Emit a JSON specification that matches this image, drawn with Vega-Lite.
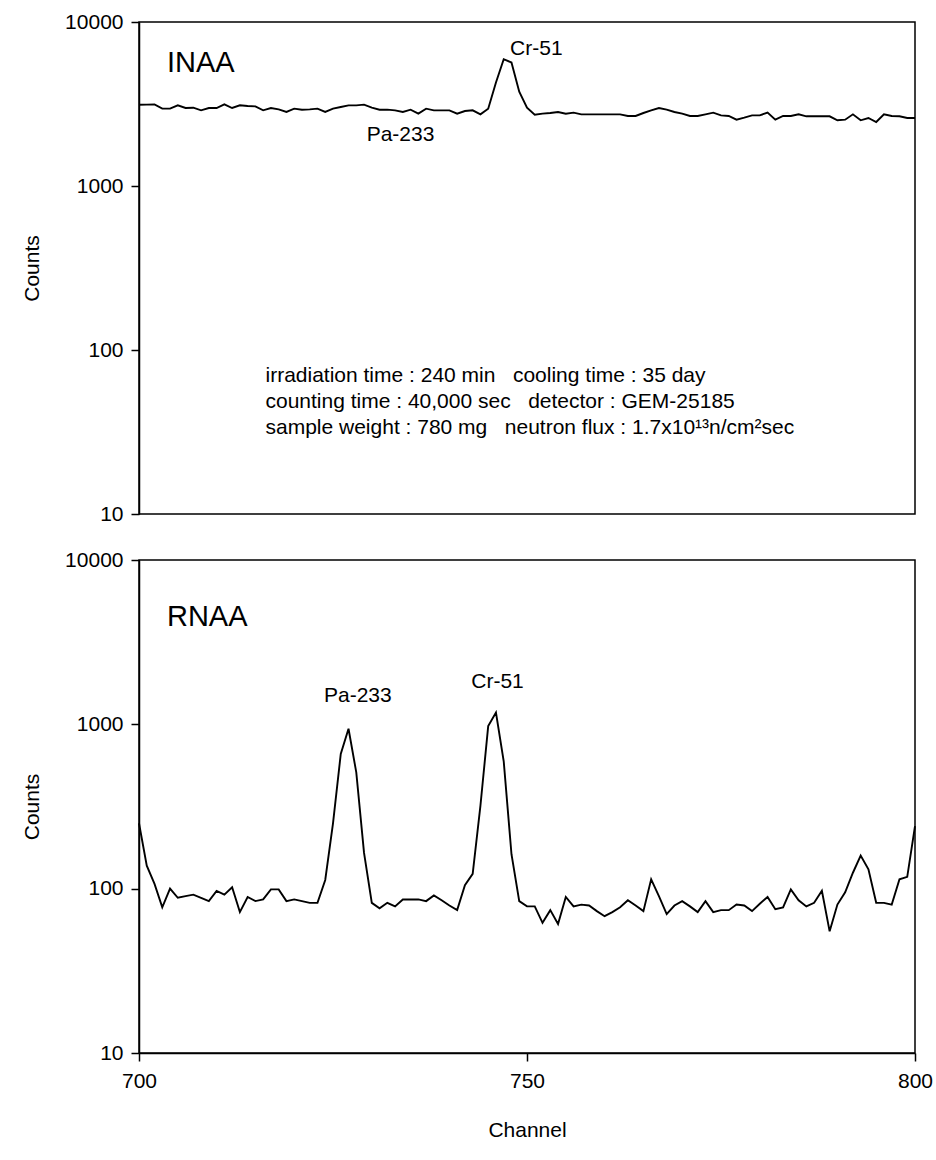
{
  "$schema": "https://vega.github.io/schema/vega-lite/v6.json",
  "background": "white",
  "padding": {"left": 20, "top": 10, "right": 20, "bottom": 10},
  "config": {
    "font": "Liberation Sans",
    "view": {"stroke": "black", "strokeWidth": 1.5},
    "axis": {
      "domainColor": "black", "domainWidth": 1.5,
      "tickColor": "black", "tickWidth": 1.5, "tickSize": 8,
      "labelColor": "black", "titleColor": "black",
      "labelFont": "Liberation Sans", "titleFont": "Liberation Sans",
      "labelFontSize": 21, "titleFontSize": 21, "titleFontWeight": "normal",
      "labelPadding": 8, "labelFlush": false, "labelOverlap": false, "grid": false
    },
    "text": {"font": "Liberation Sans", "color": "black"}
  },
  "datasets": {
    "inaa": [
      {"ch":700,"counts":3130},{"ch":701,"counts":3133},{"ch":702,"counts":3146},{"ch":703,"counts":2962},{"ch":704,"counts":2962},
      {"ch":705,"counts":3104},{"ch":706,"counts":2990},{"ch":707,"counts":3003},{"ch":708,"counts":2893},{"ch":709,"counts":2990},
      {"ch":710,"counts":2990},{"ch":711,"counts":3146},{"ch":712,"counts":2990},{"ch":713,"counts":3104},{"ch":714,"counts":3075},
      {"ch":715,"counts":3061},{"ch":716,"counts":2893},{"ch":717,"counts":2990},{"ch":718,"counts":2934},{"ch":719,"counts":2827},
      {"ch":720,"counts":2962},{"ch":721,"counts":2920},{"ch":722,"counts":2934},{"ch":723,"counts":2962},{"ch":724,"counts":2827},
      {"ch":725,"counts":2962},{"ch":726,"counts":3032},{"ch":727,"counts":3104},{"ch":728,"counts":3104},{"ch":729,"counts":3133},
      {"ch":730,"counts":3003},{"ch":731,"counts":2920},{"ch":732,"counts":2920},{"ch":733,"counts":2893},{"ch":734,"counts":2827},
      {"ch":735,"counts":2920},{"ch":736,"counts":2761},{"ch":737,"counts":2962},{"ch":738,"counts":2893},{"ch":739,"counts":2893},
      {"ch":740,"counts":2893},{"ch":741,"counts":2761},{"ch":742,"counts":2867},{"ch":743,"counts":2893},{"ch":744,"counts":2735},
      {"ch":745,"counts":2962},{"ch":746,"counts":4280},{"ch":747,"counts":5930},{"ch":748,"counts":5660},{"ch":749,"counts":3760},
      {"ch":750,"counts":3000},{"ch":751,"counts":2720},{"ch":752,"counts":2761},{"ch":753,"counts":2787},{"ch":754,"counts":2827},
      {"ch":755,"counts":2761},{"ch":756,"counts":2801},{"ch":757,"counts":2735},{"ch":758,"counts":2735},{"ch":759,"counts":2735},
      {"ch":760,"counts":2735},{"ch":761,"counts":2735},{"ch":762,"counts":2735},{"ch":763,"counts":2672},{"ch":764,"counts":2672},
      {"ch":765,"counts":2787},{"ch":766,"counts":2893},{"ch":767,"counts":2990},{"ch":768,"counts":2920},{"ch":769,"counts":2827},
      {"ch":770,"counts":2761},{"ch":771,"counts":2672},{"ch":772,"counts":2672},{"ch":773,"counts":2735},{"ch":774,"counts":2801},
      {"ch":775,"counts":2697},{"ch":776,"counts":2672},{"ch":777,"counts":2538},{"ch":778,"counts":2610},{"ch":779,"counts":2697},
      {"ch":780,"counts":2697},{"ch":781,"counts":2801},{"ch":782,"counts":2538},{"ch":783,"counts":2672},{"ch":784,"counts":2672},
      {"ch":785,"counts":2735},{"ch":786,"counts":2660},{"ch":787,"counts":2660},{"ch":788,"counts":2660},{"ch":789,"counts":2660},
      {"ch":790,"counts":2515},{"ch":791,"counts":2538},{"ch":792,"counts":2735},{"ch":793,"counts":2515},{"ch":794,"counts":2598},
      {"ch":795,"counts":2456},{"ch":796,"counts":2735},{"ch":797,"counts":2672},{"ch":798,"counts":2660},{"ch":799,"counts":2598},
      {"ch":800,"counts":2598}
    ],
    "rnaa": [
      {"ch":700,"counts":250},{"ch":701,"counts":138},{"ch":702,"counts":107},{"ch":703,"counts":77},{"ch":704,"counts":100},
      {"ch":705,"counts":88},{"ch":706,"counts":90},{"ch":707,"counts":92},{"ch":708,"counts":88},{"ch":709,"counts":84},
      {"ch":710,"counts":97},{"ch":711,"counts":92},{"ch":712,"counts":102},{"ch":713,"counts":72},{"ch":714,"counts":89},
      {"ch":715,"counts":84},{"ch":716,"counts":86},{"ch":717,"counts":99},{"ch":718,"counts":99},{"ch":719,"counts":84},
      {"ch":720,"counts":86},{"ch":721,"counts":84},{"ch":722,"counts":82},{"ch":723,"counts":82},{"ch":724,"counts":113},
      {"ch":725,"counts":250},{"ch":726,"counts":660},{"ch":727,"counts":940},{"ch":728,"counts":510},{"ch":729,"counts":165},
      {"ch":730,"counts":82},{"ch":731,"counts":76},{"ch":732,"counts":82},{"ch":733,"counts":78},{"ch":734,"counts":86},
      {"ch":735,"counts":86},{"ch":736,"counts":86},{"ch":737,"counts":84},{"ch":738,"counts":91},{"ch":739,"counts":85},
      {"ch":740,"counts":79},{"ch":741,"counts":74},{"ch":742,"counts":105},{"ch":743,"counts":123},{"ch":744,"counts":320},
      {"ch":745,"counts":975},{"ch":746,"counts":1180},{"ch":747,"counts":596},{"ch":748,"counts":162},{"ch":749,"counts":84},
      {"ch":750,"counts":78},{"ch":751,"counts":78},{"ch":752,"counts":62},{"ch":753,"counts":74},{"ch":754,"counts":61},
      {"ch":755,"counts":89},{"ch":756,"counts":78},{"ch":757,"counts":80},{"ch":758,"counts":79},{"ch":759,"counts":73},
      {"ch":760,"counts":68},{"ch":761,"counts":72},{"ch":762,"counts":77},{"ch":763,"counts":85},{"ch":764,"counts":79},
      {"ch":765,"counts":73},{"ch":766,"counts":114},{"ch":767,"counts":90},{"ch":768,"counts":70},{"ch":769,"counts":79},
      {"ch":770,"counts":84},{"ch":771,"counts":78},{"ch":772,"counts":72},{"ch":773,"counts":84},{"ch":774,"counts":72},
      {"ch":775,"counts":74},{"ch":776,"counts":74},{"ch":777,"counts":80},{"ch":778,"counts":79},{"ch":779,"counts":73},
      {"ch":780,"counts":81},{"ch":781,"counts":89},{"ch":782,"counts":75},{"ch":783,"counts":77},{"ch":784,"counts":99},
      {"ch":785,"counts":85},{"ch":786,"counts":78},{"ch":787,"counts":82},{"ch":788,"counts":97},{"ch":789,"counts":55},
      {"ch":790,"counts":80},{"ch":791,"counts":95},{"ch":792,"counts":125},{"ch":793,"counts":159},{"ch":794,"counts":131},
      {"ch":795,"counts":82},{"ch":796,"counts":82},{"ch":797,"counts":80},{"ch":798,"counts":114},{"ch":799,"counts":118},
      {"ch":800,"counts":240}
    ],
    "inaa_title": [{"label":"INAA","ch":703.6,"counts":4955}],
    "rnaa_title": [{"label":"RNAA","ch":703.6,"counts":3975}],
    "inaa_peaks": [
      {"label":"Cr-51","ch":751.2,"counts":6300},
      {"label":"Pa-233","ch":733.7,"counts":1879}
    ],
    "rnaa_peaks": [
      {"label":"Pa-233","ch":728.2,"counts":1368},
      {"label":"Cr-51","ch":746.2,"counts":1665}
    ],
    "info": [
      {"label":"irradiation time : 240 min \u00a0 cooling time : 35 day","ch":716.3,"counts":63.8},
      {"label":"counting time : 40,000 sec \u00a0 detector : GEM-25185","ch":716.3,"counts":44.3},
      {"label":"sample weight : 780 mg \u00a0 neutron flux : 1.7x10¹³n/cm²sec","ch":716.3,"counts":30.8}
    ]
  },
  "bounds": "flush",
  "spacing": 46,
  "vconcat": [
    {
      "width": 776,
      "height": 492,
      "encoding": {
        "x": {"field": "ch", "type": "quantitative", "scale": {"domain": [700, 800], "nice": false}, "axis": null},
        "y": {"field": "counts", "type": "quantitative",
              "scale": {"type": "log", "domain": [10, 10000], "nice": false},
              "axis": {"values": [10, 100, 1000, 10000], "format": "d", "title": "Counts", "titlePadding": 22}}
      },
      "layer": [
        {"data": {"name": "inaa"}, "mark": {"type": "line", "color": "black", "strokeWidth": 1.9}},
        {"data": {"name": "inaa_title"}, "mark": {"type": "text", "align": "left", "baseline": "alphabetic", "fontSize": 29},
         "encoding": {"text": {"field": "label"}}},
        {"data": {"name": "inaa_peaks"}, "mark": {"type": "text", "align": "center", "baseline": "alphabetic", "fontSize": 21},
         "encoding": {"text": {"field": "label"}}},
        {"data": {"name": "info"}, "mark": {"type": "text", "align": "left", "baseline": "alphabetic", "fontSize": 21},
         "encoding": {"text": {"field": "label"}}}
      ]
    },
    {
      "width": 776,
      "height": 493,
      "encoding": {
        "x": {"field": "ch", "type": "quantitative", "scale": {"domain": [700, 800], "nice": false},
              "axis": {"values": [700, 750, 800], "title": "Channel", "titlePadding": 28, "labelPadding": 9}},
        "y": {"field": "counts", "type": "quantitative",
              "scale": {"type": "log", "domain": [10, 10000], "nice": false},
              "axis": {"values": [10, 100, 1000, 10000], "format": "d", "title": "Counts", "titlePadding": 22}}
      },
      "layer": [
        {"data": {"name": "rnaa"}, "mark": {"type": "line", "color": "black", "strokeWidth": 1.9}},
        {"data": {"name": "rnaa_title"}, "mark": {"type": "text", "align": "left", "baseline": "alphabetic", "fontSize": 29},
         "encoding": {"text": {"field": "label"}}},
        {"data": {"name": "rnaa_peaks"}, "mark": {"type": "text", "align": "center", "baseline": "alphabetic", "fontSize": 21},
         "encoding": {"text": {"field": "label"}}}
      ]
    }
  ]
}
